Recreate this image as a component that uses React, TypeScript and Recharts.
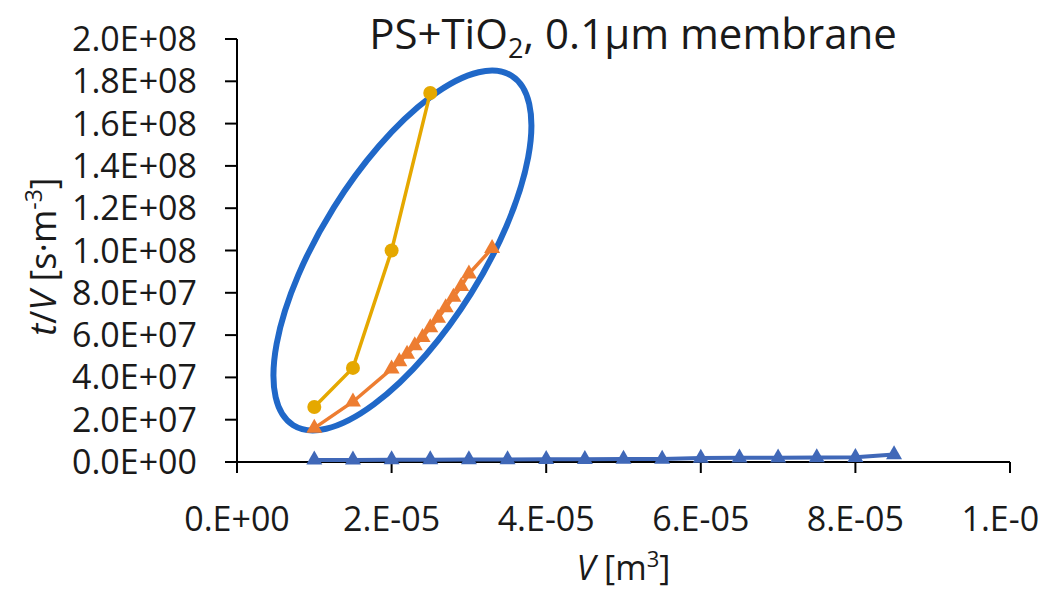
import React from 'react';
import {
  ScatterChart,
  Scatter,
  XAxis,
  YAxis,
  ReferenceDot,
  Customized,
  Label,
} from 'recharts';

// Filtrate volume V [m³] and t/V [s·m⁻³] for each run
const vYellow = [1.0e-5, 1.5e-5, 2.0e-5, 2.5e-5];
const tvYellow = [2.6e7, 4.45e7, 1.0e8, 1.745e8];

const vOrange = [1.0e-5, 1.5e-5, 2.0e-5, 2.1e-5, 2.2e-5, 2.3e-5, 2.4e-5, 2.5e-5, 2.6e-5, 2.7e-5, 2.8e-5, 2.9e-5, 3.0e-5, 3.3e-5];
const tvOrange = [1.6e7, 2.85e7, 4.4e7, 4.75e7, 5.1e7, 5.5e7, 5.9e7, 6.35e7, 6.8e7, 7.3e7, 7.8e7, 8.3e7, 8.9e7, 1.01e8];

const vBlue = [1.0e-5, 1.5e-5, 2.0e-5, 2.5e-5, 3.0e-5, 3.5e-5, 4.0e-5, 4.5e-5, 5.0e-5, 5.5e-5, 6.0e-5, 6.5e-5, 7.0e-5, 7.5e-5, 8.0e-5, 8.5e-5];
const tvBlue = [1.0e6, 1.0e6, 1.1e6, 1.1e6, 1.2e6, 1.2e6, 1.3e6, 1.3e6, 1.4e6, 1.4e6, 1.9e6, 2.0e6, 2.0e6, 2.1e6, 2.2e6, 3.5e6];

const xTicks = [0, 2e-5, 4e-5, 6e-5, 8e-5, 1e-4];
const yTicks = [0, 2e7, 4e7, 6e7, 8e7, 1e8, 1.2e8, 1.4e8, 1.6e8, 1.8e8, 2e8];

// Highlight ellipse around the two steep runs (centre in data units)
const highlightCenter = { v: 2.14e-5, tv: 1.0e8 };

const YELLOW = '#E5A800';
const ORANGE = '#ED7D31';
const BLUE = '#4068B8';
const RING = '#2068C8';
const INK = '#1a1a1a';
const FONT = "'Open Sans', 'Noto Sans', sans-serif";

const zip = (xs: number[], ys: number[]) => xs.map((v, i) => ({ v, tv: ys[i] }));
const yellowData = zip(vYellow, tvYellow);
const orangeData = zip(vOrange, tvOrange);
const blueData = zip(vBlue, tvBlue);

const sciX = (n: number) => {
  const [m, e] = n.toExponential(0).split('e');
  const exp = parseInt(e, 10);
  return `${m}.E${exp < 0 ? '-' : '+'}${String(Math.abs(exp)).padStart(2, '0')}`;
};
const sciY = (n: number) => {
  const [m, e] = n.toExponential(1).split('e');
  const exp = parseInt(e, 10);
  return `${m}E${exp < 0 ? '-' : '+'}${String(Math.abs(exp)).padStart(2, '0')}`;
};

const circleShape = (color: string, r: number) => (p: any) => (
  <circle cx={p.cx} cy={p.cy} r={r} fill={color} />
);
const triangleShape = (color: string, w: number, h: number) => (p: any) => {
  const { cx, cy } = p;
  const pts = `${cx},${cy - (h * 2) / 3} ${cx + w / 2},${cy + h / 3} ${cx - w / 2},${cy + h / 3}`;
  return <polygon points={pts} fill={color} />;
};

const ringShape = (p: any) => (
  <ellipse
    cx={p.cx}
    cy={p.cy}
    rx={206}
    ry={81}
    transform={`rotate(-58 ${p.cx} ${p.cy})`}
    fill="none"
    stroke={RING}
    strokeWidth={6}
  />
);

const ChartTitle = () => (
  <text x={625} y={41} textAnchor="middle" fontFamily={FONT} fontSize={42} fill={INK}>
    PS+TiO
    <tspan fontSize={27} dy={9}>2</tspan>
    <tspan dy={-9}>, 0.1µm membrane</tspan>
  </text>
);

const XLabel = (props: any) => {
  const { viewBox } = props;
  const cx = viewBox.x + viewBox.width / 2;
  return (
    <text x={cx} y={572} textAnchor="middle" fontFamily={FONT} fontSize={34} fill={INK}>
      <tspan fontStyle="italic">V</tspan>
      <tspan> [m</tspan>
      <tspan fontSize={22} dy={-13}>3</tspan>
      <tspan dy={13}>]</tspan>
    </text>
  );
};

const YLabel = (props: any) => {
  const { viewBox } = props;
  const cy = viewBox.y + viewBox.height / 2 + 6;
  const x = 48;
  return (
    <text
      x={x}
      y={cy}
      textAnchor="middle"
      transform={`rotate(-90 ${x} ${cy})`}
      fontFamily={FONT}
      fontSize={36}
      fill={INK}
    >
      <tspan fontStyle="italic">t</tspan>
      <tspan>/</tspan>
      <tspan fontStyle="italic">V</tspan>
      <tspan> [s·m</tspan>
      <tspan fontSize={23} dy={-14}>-3</tspan>
      <tspan dy={14}>]</tspan>
    </text>
  );
};

export default function App() {
  return (
    <div style={{ width: 1039, height: 583 }}>
      <ScatterChart width={1039} height={583} margin={{ top: 31, right: 37, bottom: 0, left: 0 }}>
        <XAxis
          type="number"
          dataKey="v"
          domain={[0, 1e-4]}
          ticks={xTicks}
          tickFormatter={sciX}
          height={129}
          axisLine={{ stroke: '#000', strokeWidth: 2 }}
          tickLine={{ stroke: '#000', strokeWidth: 2 }}
          tickSize={11}
          tickMargin={34}
          tick={{ fontFamily: FONT, fontSize: 34, fill: INK }}
          interval={0}
        >
          <Label content={XLabel} />
        </XAxis>
        <YAxis
          type="number"
          dataKey="tv"
          domain={[0, 2e8]}
          ticks={yTicks}
          tickFormatter={sciY}
          width={229}
          axisLine={{ stroke: '#000', strokeWidth: 2 }}
          tickLine={{ stroke: '#000', strokeWidth: 2 }}
          tickSize={12}
          tickMargin={28}
          tick={{ fontFamily: FONT, fontSize: 34, fill: INK }}
          interval={0}
        >
          <Label content={YLabel} />
        </YAxis>
        <ReferenceDot x={highlightCenter.v} y={highlightCenter.tv} shape={ringShape} />
        <Scatter
          data={blueData}
          line={{ stroke: BLUE, strokeWidth: 4 }}
          lineType="joint"
          shape={triangleShape(BLUE, 16, 14)}
          isAnimationActive={false}
        />
        <Scatter
          data={orangeData}
          line={{ stroke: ORANGE, strokeWidth: 3.5 }}
          lineType="joint"
          shape={triangleShape(ORANGE, 16, 14)}
          isAnimationActive={false}
        />
        <Scatter
          data={yellowData}
          line={{ stroke: YELLOW, strokeWidth: 3.5 }}
          lineType="joint"
          shape={circleShape(YELLOW, 7)}
          isAnimationActive={false}
        />
        <Customized component={ChartTitle} />
      </ScatterChart>
    </div>
  );
}
